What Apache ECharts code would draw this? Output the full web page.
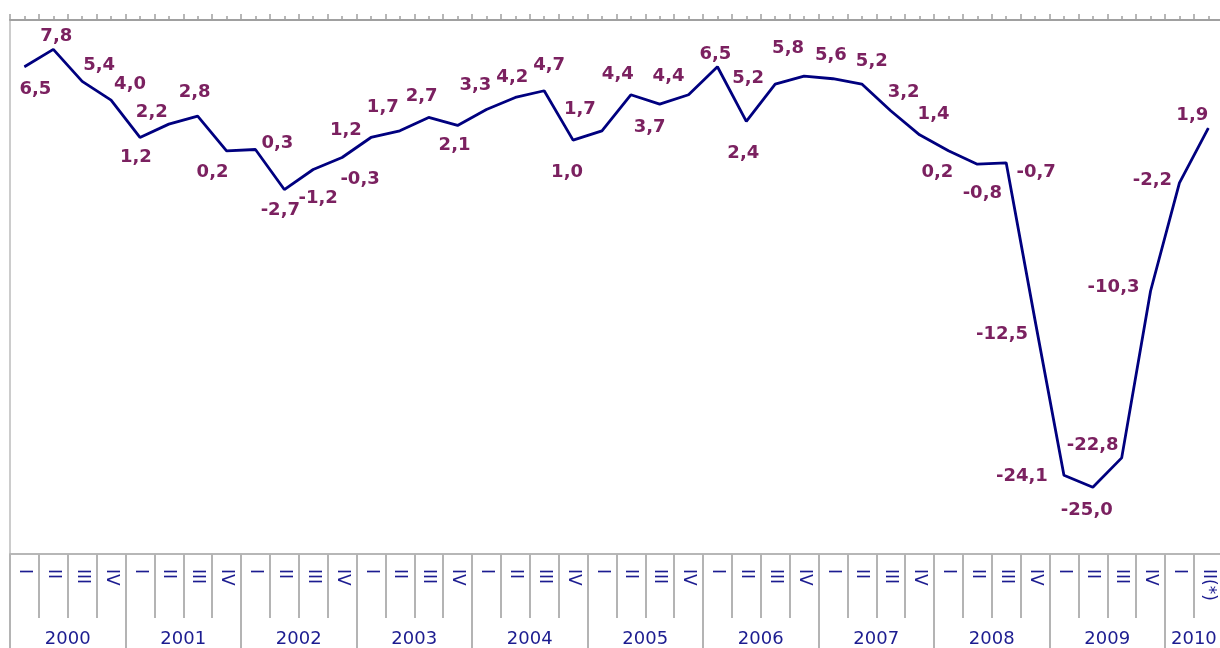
<!DOCTYPE html>
<html>
<head>
<meta charset="utf-8">
<script src="https://cdn.jsdelivr.net/npm/echarts@6/dist/echarts.min.js"></script>
<style>
html,body{margin:0;padding:0;background:#fff;}
#chart{width:1220px;height:648px;}
</style>
</head>
<body>
<div id="chart"></div>
<script>
// Quarter categories (2000 I ... 2010 II(*))
const years = ['2000','2001','2002','2003','2004','2005','2006','2007','2008','2009','2010'];
const quarterNames = ['I','II','III','IV'];
const lastQuarterLabel = 'II(*)';

// Series values (% change)
const values = [
  6.5, 7.8, 5.4, 4.0,
  1.2, 2.2, 2.8, 0.2,
  0.3, -2.7, -1.2, -0.3,
  1.2, 1.7, 2.7, 2.1,
  3.3, 4.2, 4.7, 1.0,
  1.7, 4.4, 3.7, 4.4,
  6.5, 2.4, 5.2, 5.8,
  5.6, 5.2, 3.2, 1.4,
  0.2, -0.8, -0.7, -12.5,
  -24.1, -25.0, -22.8, -10.3,
  -2.2, 1.9
];

// Label placement (pixel offsets of each value label from its point)
const labelOffsets = [
  [11,23],[3,-13],[17,-16],[19,-16],
  [-4,20],[-17,-12],[-3,-24],[-14,21],
  [22,-6],[-4,21],[5,29],[18,22],
  [-25,-7],[-17,-23],[-7,-21],[-3,20],
  [-11,-24],[-3,-20],[5,-25],[-6,32],
  [-22,-21],[-13,-20],[-10,23],[-20,-18],
  [-2,-12],[-3,32],[-27,-6],[-16,-28],
  [-2,-23],[10,-23],[13,-18],[14,-20],
  [-11,21],[5,29],[30,9],[-33,14],
  [-42,1],[-6,23],[-29,-13],[-37,-4],
  [-27,-3],[-16,-13]
];

// Build category list
const quarterCats = [];
years.forEach(function (y) {
  if (y === '2010') {
    quarterCats.push(quarterNames[0]);
    quarterCats.push(lastQuarterLabel);
  } else {
    quarterNames.forEach(function (q) { quarterCats.push(q); });
  }
});
const nQ = quarterCats.length; // 42

// Year label axis: boundaries 0..nQ, year labels at year centres
const yearCats = [];
for (let i = 0; i <= nQ; i++) yearCats.push('');
years.forEach(function (y, yi) {
  const start = yi * 4;
  const end = Math.min(start + 4, nQ);
  yearCats[(start + end) / 2] = y;
});
const yearBoundary = function (idx) { return idx % 4 === 0 || idx === nQ; };

const seriesData = values.map(function (v, i) {
  return { value: v, label: { offset: labelOffsets[i] } };
});

const chart = echarts.init(document.getElementById('chart'), null, { renderer: 'canvas' });
const gray = '#b4b4b4';
const blue = '#1c1c90';
chart.setOption({
  animation: false,
  grid: { left: 10, top: 20, bottom: 94, width: 1212.75, containLabel: false, outerBoundsMode: 'none' },
  xAxis: [
    {
      type: 'category', data: quarterCats, position: 'bottom', boundaryGap: true,
      axisLine: { show: true, onZero: false, lineStyle: { color: gray, width: 1.5 } },
      axisTick: { show: true, interval: 0, length: 64, lineStyle: { color: gray, width: 2 } },
      axisLabel: { interval: 0, rotate: -90, margin: 15, color: blue, fontSize: 17, fontFamily: 'DejaVu Sans' },
      splitLine: { show: false }
    },
    {
      type: 'category', data: yearCats, position: 'bottom', boundaryGap: false,
      axisLine: { show: true, onZero: false, lineStyle: { color: gray, width: 1.5 } },
      axisTick: { show: true, interval: yearBoundary, length: 94, lineStyle: { color: gray, width: 2 } },
      axisLabel: { interval: function (idx, val) { return val !== ''; }, margin: 76, color: blue, fontSize: 18, fontFamily: 'DejaVu Sans', verticalAlign: 'top' },
      splitLine: { show: false }
    },
    {
      type: 'value', position: 'top', min: 0, max: nQ, interval: 1,
      axisLine: { show: true, onZero: false, lineStyle: { color: '#a0a0a0', width: 2 } },
      axisTick: { show: true, length: 6, lineStyle: { color: '#a0a0a0', width: 1.5 } },
      minorTick: { show: true, splitNumber: 2, length: 4, lineStyle: { color: '#a0a0a0', width: 1.5 } },
      axisLabel: { show: false },
      splitLine: { show: false }
    }
  ],
  yAxis: {
    type: 'value', min: -30, max: 10,
    axisLine: { show: true, onZero: false, lineStyle: { color: '#cccccc', width: 2 } },
    axisTick: { show: false },
    axisLabel: { show: false },
    splitLine: { show: false }
  },
  series: [{
    type: 'line',
    xAxisIndex: 0, yAxisIndex: 0,
    data: seriesData,
    symbol: 'circle', symbolSize: 1,
    itemStyle: { color: '#00007f' },
    lineStyle: { color: '#00007f', width: 2.8 },
    label: {
      show: true, position: 'inside',
      color: '#7b2160', fontSize: 18, fontWeight: 'bold', fontFamily: 'DejaVu Sans',
      formatter: function (p) { return p.value.toFixed(1).replace('.', ','); }
    }
  }]
});
</script>
</body>
</html>
